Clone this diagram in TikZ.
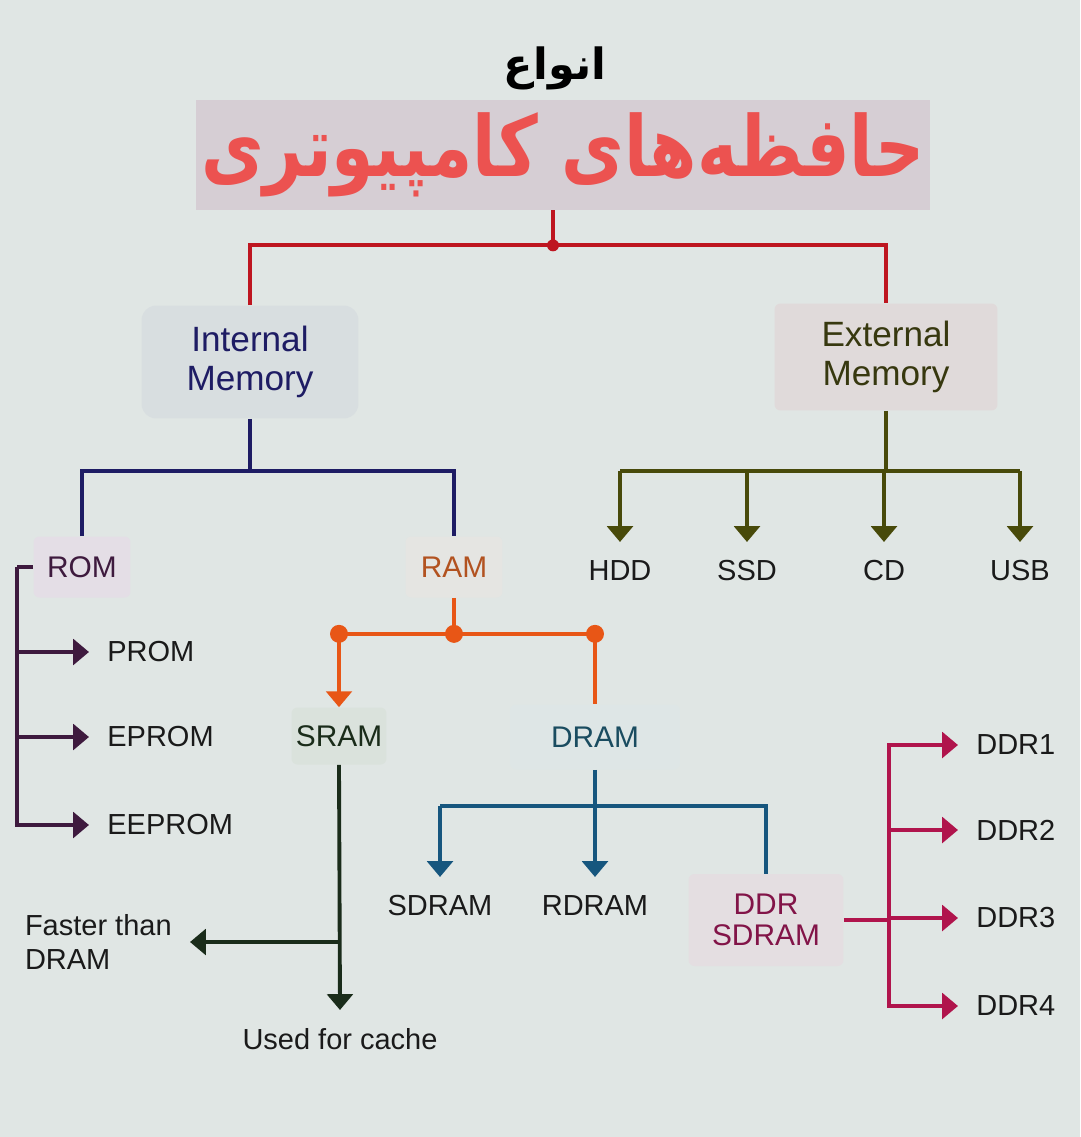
\documentclass[tikz,border=0pt]{standalone}
\usepackage{fontspec}
\setmainfont{Liberation Sans}
\newfontfamily\farsifont[Script=Arabic]{DejaVu Sans}
\TeXXeTstate=1
\usepackage{xcolor}
\usepackage{tikz}
\usetikzlibrary{arrows.meta, positioning, calc}

\definecolor{bgcol}{RGB}{224,230,228}
\definecolor{titlebox}{RGB}{214,206,212}
\definecolor{titlered}{RGB}{236,82,80}
\definecolor{rootline}{RGB}{190,22,32}
\definecolor{navy}{RGB}{30,28,100}
\definecolor{intfill}{RGB}{216,222,224}
\definecolor{extfill}{RGB}{224,218,218}
\definecolor{olive}{RGB}{72,74,10}
\definecolor{olivetext}{RGB}{55,56,15}
\definecolor{plum}{RGB}{62,26,62}
\definecolor{romfill}{RGB}{228,222,230}
\definecolor{ramorange}{RGB}{232,86,22}
\definecolor{ramtext}{RGB}{178,82,32}
\definecolor{ramfill}{RGB}{229,229,226}
\definecolor{sramgreen}{RGB}{26,44,26}
\definecolor{sramfill}{RGB}{218,226,220}
\definecolor{dramblue}{RGB}{22,86,126}
\definecolor{dramtext}{RGB}{26,76,96}
\definecolor{dramfill}{RGB}{222,230,230}
\definecolor{ddrred}{RGB}{176,20,76}
\definecolor{ddrtext}{RGB}{130,20,72}
\definecolor{ddrfill}{RGB}{228,222,225}
\definecolor{leaftext}{RGB}{26,26,26}

\newcommand{\leaffont}{\fontsize{16.5}{19.5}\selectfont}
\newcommand{\boxfont}{\fontsize{17}{20}\selectfont}

\begin{document}
\begin{tikzpicture}[x=0.02cm, y=-0.02cm,
    membox/.style={rectangle, rounded corners=0.12cm, align=center, inner sep=0, font=\boxfont},
    leaf/.style={inner sep=0.36cm, text=leaftext, font=\leaffont},
    link/.style={line width=2.2pt},
    arrow/.style={link, -{Triangle[width=14.5pt, length=9pt]}},
    joint/.style={circle, fill=ramorange, inner sep=0, minimum size=0.36cm}]

\path[use as bounding box, fill=bgcol] (0,0) rectangle (1080,1137);

% title
\node (kind) at (555,68) {\farsifont\bfseries\fontsize{24.5}{26}\selectfont\beginR انواع\endR};
\node (title) [fill=titlebox, minimum width=14.68cm, minimum height=2.2cm, inner sep=0] at (563,155)
  {\scalebox{0.845}[1.04]{\color{titlered}\farsifont\bfseries\fontsize{46}{50}\selectfont\beginR حافظه^^^^200cهای کامپیوتری\endR}};

% main boxes
\node (intmem) [membox, rounded corners=0.3cm, fill=intfill, text=navy, minimum width=4.34cm, minimum height=2.26cm, font=\fontsize{20}{22}\selectfont] at (250,362) {Internal\\Memory};
\node (extmem) [membox, fill=extfill, text=olivetext, minimum width=4.46cm, minimum height=2.14cm, font=\fontsize{20}{22}\selectfont] at (886,357) {External\\Memory};

\node (rom) [membox, fill=romfill, text=plum, minimum width=1.94cm, minimum height=1.22cm] at (82,567) {ROM};
\node (ram) [membox, fill=ramfill, text=ramtext, minimum width=1.94cm, minimum height=1.22cm] at (454,567) {RAM};
\node (sram) [membox, fill=sramfill, text=sramgreen, minimum width=1.9cm, minimum height=1.14cm] at (339,736) {SRAM};
\node (dram) [membox, fill=dramfill, text=dramtext, minimum width=3.4cm, minimum height=1.3cm] at (595,737) {DRAM};
\node (ddr) [membox, fill=ddrfill, text=ddrtext, minimum width=3.1cm, minimum height=1.84cm, font=\fontsize{17}{18}\selectfont] at (766,920) {DDR\\SDRAM};

% leaves
\node (prom) [leaf, anchor=west] at (89,652) {PROM};
\node (eprom) [leaf, anchor=west] at (89,737) {EPROM};
\node (eeprom) [leaf, anchor=west] at (89,825) {EEPROM};

\node (hdd) [leaf, anchor=north] at (620,542) {HDD};
\node (ssd) [leaf, anchor=north] at (747,542) {SSD};
\node (cd) [leaf, anchor=north] at (884,542) {CD};
\node (usb) [leaf, anchor=north] at (1020,542) {USB};

\node (faster) [leaf, anchor=east, align=left] at (190,942) {Faster than\\DRAM};
\node (cache) [leaf, anchor=north] at (340,1010) {Used for cache};

\node (sdram) [leaf, anchor=north] at (440,877) {SDRAM};
\node (rdram) [leaf, anchor=north] at (595,877) {RDRAM};

\node (ddr1) [leaf, anchor=west] at (958,745) {DDR1};
\node (ddr2) [leaf, anchor=west] at (958,830) {DDR2};
\node (ddr3) [leaf, anchor=west] at (958,918) {DDR3};
\node (ddr4) [leaf, anchor=west] at (958,1006) {DDR4};

% root
\draw [link, rootline] ([xshift=-0.2cm]title.south) -- ++(0,35) coordinate (split);
\draw [link, rootline] (intmem.north) |- (split) -| (extmem.north);
\fill [rootline] (split) circle (0.12cm);

% internal memory
\draw [link, navy] (intmem.south) -- ++(0,52) coordinate (inthub);
\draw [link, navy] (rom.north) |- (inthub) -| (ram.north);

% external memory
\draw [link, olive] (extmem.south) -- ++(0,60) coordinate (exthub);
\draw [link, olive] (hdd.north |- exthub) -- (usb.north |- exthub);
\draw [arrow, olive] (hdd.north |- exthub) -- (hdd.north);
\draw [arrow, olive] (ssd.north |- exthub) -- (ssd.north);
\draw [arrow, olive] (cd.north |- exthub) -- (cd.north);
\draw [arrow, olive] (usb.north |- exthub) -- (usb.north);

% rom
\draw [link, plum] (rom.west) -- ++(-16,0) coordinate (romhub);
\draw [arrow, plum] (romhub) |- (prom.west);
\draw [arrow, plum] (romhub) |- (eprom.west);
\draw [arrow, plum] (romhub) |- (eeprom.west);

% ram
\draw [link, ramorange] (ram.south) -- ++(0,36) coordinate (ramhub);
\draw [link, ramorange] (sram.north |- ramhub) -- (dram.north |- ramhub);
\draw [arrow, ramorange] (sram.north |- ramhub) -- (sram.north);
\draw [link, ramorange] (dram.north |- ramhub) -- (dram.north);
\node [joint] at (ramhub) {};
\node [joint] at (sram.north |- ramhub) {};
\node [joint] at (dram.north |- ramhub) {};

% sram
\draw [arrow, sramgreen] (sram.south) -- (cache.north);
\draw [arrow, sramgreen] (sram.south |- faster.east) -- (faster.east);

% dram
\draw [arrow, dramblue] (dram.south) -- (rdram.north);
\draw [link, dramblue] (dram.south) ++(0,36) coordinate (dramhub);
\draw [link, dramblue] (sdram.north |- dramhub) -- (ddr.north |- dramhub) -- (ddr.north);
\draw [arrow, dramblue] (sdram.north |- dramhub) -- (sdram.north);

% ddr sdram
\draw [link, ddrred] (ddr.east) -- ++(45,0) coordinate (ddrhub);
\draw [arrow, ddrred] (ddrhub) |- (ddr1.west);
\draw [arrow, ddrred] (ddrhub) |- (ddr2.west);
\draw [arrow, ddrred] (ddrhub) |- (ddr3.west);
\draw [arrow, ddrred] (ddrhub) |- (ddr4.west);

\end{tikzpicture}
\end{document}
